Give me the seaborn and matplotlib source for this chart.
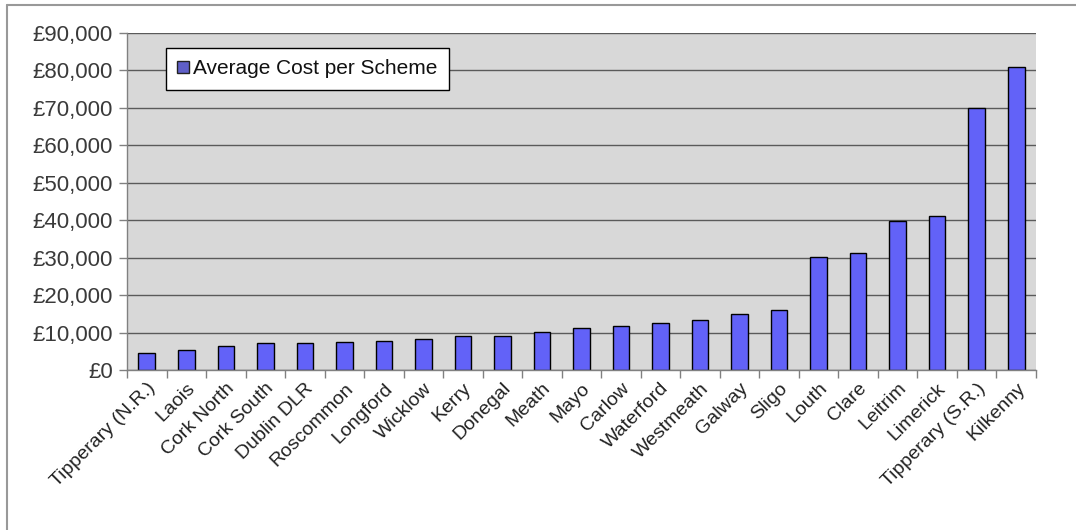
import matplotlib
matplotlib.use("Agg")
import matplotlib.pyplot as plt
import matplotlib.ticker as mticker
from matplotlib.lines import Line2D
import seaborn as sns
import pandas as pd
import numpy as np

counties = ["Tipperary (N.R.)", "Laois", "Cork North", "Cork South", "Dublin DLR",
            "Roscommon", "Longford", "Wicklow", "Kerry", "Donegal", "Meath", "Mayo",
            "Carlow", "Waterford", "Westmeath", "Galway", "Sligo", "Louth", "Clare",
            "Leitrim", "Limerick", "Tipperary (S.R.)", "Kilkenny"]
avg_cost = [4500, 5300, 6500, 7100, 7100, 7400, 7800, 8300, 9100, 9100, 10100, 11200,
            11700, 12500, 13400, 15000, 15900, 30100, 31300, 39900, 41200, 69900, 81000]
series_name = "Average Cost per Scheme"
y_ticks = [0, 10000, 20000, 30000, 40000, 50000, 60000, 70000, 80000, 90000]

df = pd.DataFrame({"County": counties, "Cost": avg_cost, "Series": series_name})

sns.set_theme(style="white")
plt.rcParams["font.family"] = ["Liberation Sans", "DejaVu Sans"]

fig = plt.figure(figsize=(10.76, 5.30), dpi=100)
ax = fig.add_axes([127/1076, 1 - 370/530, (1036-127)/1076, (370-33)/530])

ax.set_facecolor("#d8d8d8")
ax.set_axisbelow(True)

sns.barplot(data=df, x="County", y="Cost", hue="Series", palette=["#6262f8"],
            saturation=1, width=0.42, edgecolor="black", linewidth=1.0, ax=ax, legend=False)

ax.set_ylim(0, 90000)
ax.set_xlim(-0.5, len(counties) - 0.5)
ax.set_yticks(y_ticks)
ax.yaxis.set_major_formatter(mticker.FuncFormatter(lambda v, p: "£{:,.0f}".format(v)))
ax.yaxis.grid(True, color="#5a5a5a", linewidth=1.0)
ax.xaxis.grid(False)

ax.set_xticks(np.arange(len(counties)))
ax.set_xticklabels(counties, rotation=45, ha="right", rotation_mode="anchor",
                   fontsize=14, color="#222222")
ax.tick_params(axis="x", which="major", length=0, pad=7)
ax.set_xticks(np.arange(-0.5, len(counties)), minor=True)
ax.tick_params(axis="x", which="minor", length=6, color="#808080", width=1, direction="out")
ax.tick_params(axis="y", which="major", length=6, color="#808080", width=1, direction="out",
               labelsize=16, labelcolor="#3a3a3a", pad=4)
ax.tick_params(bottom=True, left=True, which="both")

for side in ["top", "right"]:
    ax.spines[side].set_visible(False)
for side in ["left", "bottom"]:
    ax.spines[side].set_color("#808080")
    ax.spines[side].set_linewidth(1.0)

ax.set_xlabel("")
ax.set_ylabel("")

handle = plt.Rectangle((0, 0), 1, 1, facecolor="#5f5fc8", edgecolor="#222222", linewidth=1.0)
leg = ax.legend([handle], [series_name], loc="upper left",
                bbox_to_anchor=((166-127)/909, (370-48)/337),
                frameon=True, fancybox=False, fontsize=15,
                handlelength=0.55, handleheight=0.55, handletextpad=0.2,
                borderpad=0.55, borderaxespad=0)
leg.get_frame().set_edgecolor("black")
leg.get_frame().set_linewidth(1.0)
leg.get_frame().set_facecolor("white")
leg.get_frame().set_alpha(1)
for t in leg.get_texts():
    t.set_color("#111111")

fig.add_artist(Line2D([7/1076, 1], [1 - 5/530, 1 - 5/530], color="#999999", linewidth=1.5,
                      transform=fig.transFigure))
fig.add_artist(Line2D([7/1076, 7/1076], [0, 1 - 5/530], color="#999999", linewidth=1.5,
                      transform=fig.transFigure))

fig.savefig("out.png", dpi=100)
